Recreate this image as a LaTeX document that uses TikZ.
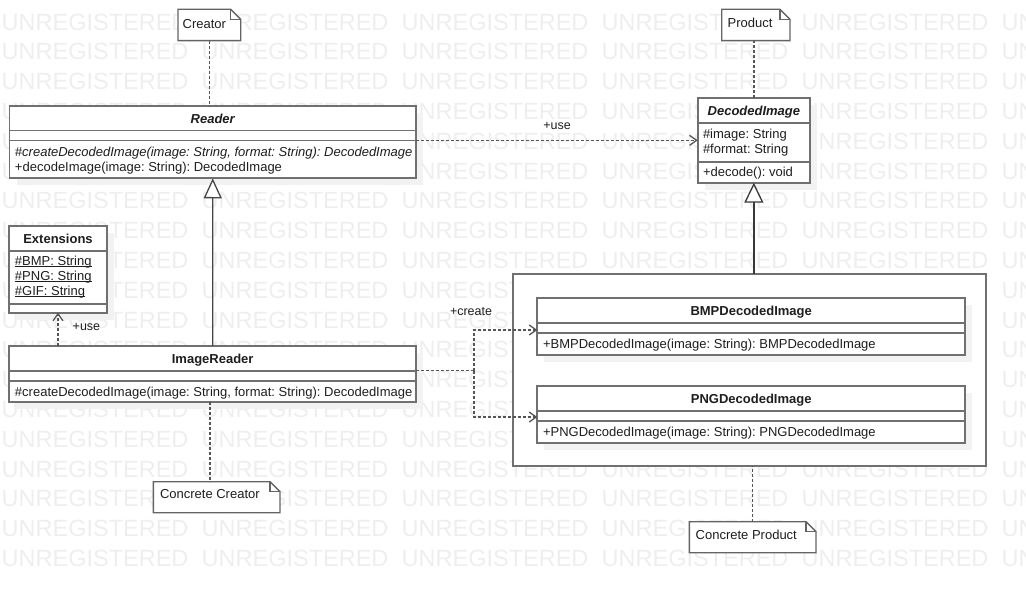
\documentclass[tikz,border=0pt]{standalone}
\usepackage{fontspec}
\setmainfont{Liberation Sans}
\usetikzlibrary{arrows.meta,shadows}

\definecolor{wmc}{RGB}{238,238,238}
\definecolor{boxc}{RGB}{112,112,112}
\definecolor{shadc}{RGB}{242,242,242}
\definecolor{txtc}{RGB}{30,30,30}
\definecolor{depc}{RGB}{85,85,85}
\definecolor{notec}{RGB}{100,100,100}
\definecolor{genc}{RGB}{70,70,70}

% underline set just below the baseline
\newcommand\attrul[1]{\setbox0\hbox{#1}\rlap{\rule[-1.6pt]{\wd0}{0.9pt}}\box0}

\begin{document}
\frenchspacing
\begin{tikzpicture}[x=1pt,y=-1pt,
  every node/.style={inner sep=0pt, outer sep=0pt, text=txtc,
    font=\fontsize{13}{15}\selectfont},
  watermark/.style={anchor=west, text=wmc, font=\fontsize{23.5}{26}\selectfont},
  classbox/.style={draw=boxc, line width=1.8pt, fill=white, anchor=north west,
    drop shadow={shadow xshift=7pt, shadow yshift=-7pt, fill=shadc, opacity=1}},
  framebox/.style={draw=boxc, line width=1.8pt, fill=white, anchor=north west},
  compart/.style={draw=boxc, line width=1.8pt},
  noteshape/.style={anchor=north west},
  noteline/.style={draw=notec, line width=1.4pt, fill=white, line join=miter},
  txt/.style={anchor=base west},
  ctitle/.style={anchor=base, font=\fontsize{13}{15}\selectfont\bfseries},
  atitle/.style={anchor=base, font=\fontsize{13}{15}\selectfont\bfseries\itshape},
  lbl/.style={anchor=base west, font=\fontsize{12.5}{14}\selectfont},
  dep/.style={draw=depc, line width=1.4pt, dash pattern=on 3pt off 2pt},
  usearrow/.style={dep, -{Straight Barb[length=7pt, width=10pt, line width=1.3pt]}},
  gen/.style={draw=genc, line width=1.3pt,
    -{Triangle[length=20pt, width=18pt, fill=white, line width=1.3pt]}},
  genbold/.style={draw=genc!80!black, line width=2.2pt,
    -{Triangle[length=20pt, width=19pt, fill=white, line width=1.3pt]}},
]
\useasboundingbox (0,0) rectangle (1026,594);
\clip (0,0) rectangle (1026,594);

% background lettering
\foreach \r in {0,...,18}
  \foreach \c in {0,...,5}
    \node[watermark] (wm-\r-\c) at ({1.7+200*\c},{22+29.8*\r}) {UNREGISTERED};

% container of the concrete products
\node[framebox, minimum width=473pt, minimum height=192.3pt] (frame) at (513,273.7) {};

% classes
\node[classbox, minimum width=406.5pt, minimum height=72.3pt] (reader) at (9.5,106) {};
\draw[compart] (9.5,130.5) -- (416,130.5);
\draw[compart] (9.5,140.5) -- (416,140.5);

\node[classbox, minimum width=112.3pt, minimum height=84.7pt] (dimg) at (697.7,98) {};
\draw[compart] (697.7,122.7) -- (810,122.7);
\draw[compart] (697.7,161.7) -- (810,161.7);

\node[classbox, minimum width=97.4pt, minimum height=86.7pt] (ext) at (9.3,226) {};
\draw[compart] (9.3,250.7) -- (106.7,250.7);
\draw[compart] (9.3,304) -- (106.7,304);

\node[classbox, minimum width=406.7pt, minimum height=55.7pt] (ireader) at (9.3,346) {};
\draw[compart] (9.3,370.7) -- (416,370.7);
\draw[compart] (9.3,380.7) -- (416,380.7);

\node[classbox, minimum width=427.7pt, minimum height=57pt] (bmp) at (537.3,297.7) {};
\draw[compart] (537.3,322.7) -- (965,322.7);
\draw[compart] (537.3,332.7) -- (965,332.7);

\node[classbox, minimum width=427.7pt, minimum height=56.7pt] (png) at (537.3,386) {};
\draw[compart] (537.3,410.7) -- (965,410.7);
\draw[compart] (537.3,420.7) -- (965,420.7);

% notes with a folded corner
\node[noteshape, minimum width=62.7pt, minimum height=31.4pt] (creator) at (178,9.3) {};
\node[noteshape, minimum width=68.3pt, minimum height=31.4pt] (product) at (721.7,9.3) {};
\node[noteshape, minimum width=126.7pt, minimum height=31pt] (ccreator) at (153.3,481.7) {};
\node[noteshape, minimum width=126.7pt, minimum height=31pt] (cproduct) at (689.3,521.7) {};
\foreach \n in {creator,product,ccreator,cproduct} {
  \draw[noteline] (\n.south west) -- (\n.north west) -- ([xshift=-10pt]\n.north east)
    -- ([yshift=-10pt]\n.north east) -- (\n.south east) -- cycle;
  \draw[noteline, fill=none] ([xshift=-10pt]\n.north east)
    -- ([xshift=-10pt,yshift=-10pt]\n.north east) -- ([yshift=-10pt]\n.north east);
}

% class texts
\node[atitle] (readerT) at (212.7,123) {Reader};
\node[txt, font=\fontsize{13}{15}\selectfont\itshape] (readerM1) at (15,156.5)
  {\#createDecodedImage(image: String, format: String): DecodedImage};
\node[txt] (readerM2) at (15,171) {+decodeImage(image: String): DecodedImage};

\node[atitle] (dimgT) at (753.9,115) {DecodedImage};
\node[txt] (dimgA1) at (703,138.3) {\#image: String};
\node[txt] (dimgA2) at (703,153.3) {\#format: String};
\node[txt] (dimgM1) at (703,176) {+decode(): void};

\node[ctitle] (extT) at (58,243) {Extensions};
\node[txt] (extA1) at (15,265.7) {\attrul{\#BMP: String}};
\node[txt] (extA2) at (15,280.7) {\attrul{\#PNG: String}};
\node[txt] (extA3) at (15,295.3) {\attrul{\#GIF: String}};

\node[ctitle] (ireaderT) at (212.7,363) {ImageReader};
\node[txt] (ireaderM1) at (15,396)
  {\#createDecodedImage(image: String, format: String): DecodedImage};

\node[ctitle] (bmpT) at (751.2,315) {BMPDecodedImage};
\node[txt] (bmpM1) at (543,348.3) {+BMPDecodedImage(image: String): BMPDecodedImage};

\node[ctitle] (pngT) at (751.2,403) {PNGDecodedImage};
\node[txt] (pngM1) at (543,436.3) {+PNGDecodedImage(image: String): PNGDecodedImage};

% note texts
\node[txt] (creatorT) at (182.7,28.3) {Creator};
\node[txt] (productT) at (727.7,27.5) {Product};
\node[txt] (ccreatorT) at (160,498.3) {Concrete Creator};
\node[txt] (cproductT) at (695.7,539.3) {Concrete Product};

% note anchors
\draw[dep] (creator.south) -- (creator.south |- reader.north);
\draw[dep] (dimg.north) -- (dimg.north |- product.south);
\draw[dep] ([xshift=-2.5pt]ireader.south) -- ([xshift=-2.5pt]ireader.south |- ccreator.north);
\draw[dep] (cproduct.north) -- (cproduct.north |- frame.south);

% dependencies
\draw[usearrow] (dimg.west -| reader.east) -- (dimg.west);
\node[lbl] (useA) at (543.3,129) {+use};

\draw[usearrow] (ext.south |- ireader.north) -- (ext.south);
\node[lbl] (useB) at (72.7,330) {+use};

\coordinate (fork) at ([xshift=58pt,yshift=3.3pt]ireader.east);
\draw[dep] ([yshift=3.3pt]ireader.east) -- (fork);
\draw[usearrow] (fork) |- ([yshift=-3.8pt]bmp.west);
\draw[usearrow] (fork) |- ([yshift=-2.7pt]png.west);
\node[lbl] (createL) at (450,315) {+create};

% generalizations
\draw[gen] (ireader.north) -- (reader.south);
\draw[genbold] (dimg.south |- frame.north) -- (dimg.south);
\end{tikzpicture}
\end{document}
